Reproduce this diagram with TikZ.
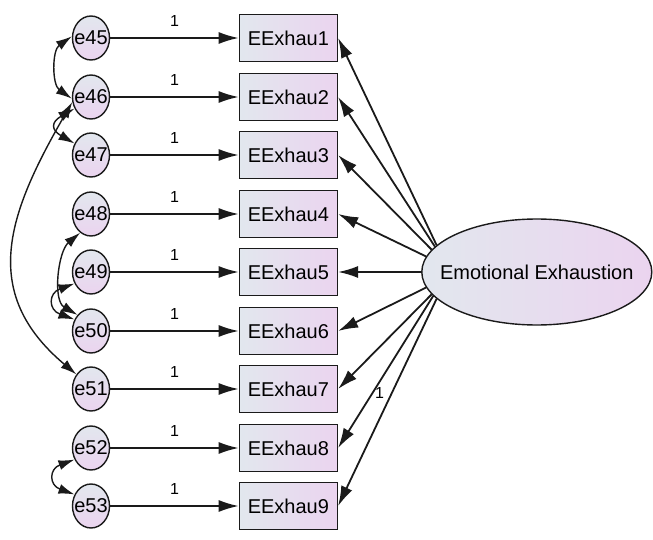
\documentclass[tikz,border=0pt]{standalone}
\usepackage{fontspec}
\setsansfont{Liberation Sans}
\usepackage{tikz}
\usetikzlibrary{arrows.meta}
\usetikzlibrary{shapes,shapes.geometric,arrows,positioning}
\definecolor{shadeLeft}{HTML}{E2E7EE}
\definecolor{shadeRight}{HTML}{EBD4EF}
\definecolor{inkDark}{HTML}{1A1A1A}
\tikzset{>={Latex[length=20pt, width=12pt]}}
\tikzset{sem-line/.style={line width=1.8pt, draw=inkDark}}
\tikzset{cov-line/.style={sem-line, line width=1.4pt, {Latex[length=16pt, width=10pt]}-{Latex[length=16pt, width=10pt]}}}
\tikzset{err-node/.style={draw=inkDark, line width=1.4pt, ellipse, inner sep=0,
    minimum width=37pt, minimum height=44pt, top color=shadeLeft, bottom color=shadeRight,
    font=\sffamily\fontsize{20}{22}\selectfont}}
\tikzset{item-node/.style={draw=inkDark, line width=1.4pt, inner sep=0,
    minimum width=98pt, minimum height=47pt, left color=shadeLeft, right color=shadeRight,
    font=\sffamily\fontsize{20}{22}\selectfont}}
\tikzset{latent-node/.style={item-node, ellipse, minimum width=230pt, minimum height=106pt}}
\tikzset{weight-label/.style={inner sep=0, font=\sffamily\fontsize{16}{16}\selectfont}}

\begin{document}
\begin{tikzpicture}[x=1pt, y=1pt]
    \useasboundingbox (0,0) rectangle (653,-540);

    \foreach \k in {1,...,9} {
        \pgfmathtruncatemacro{\e}{44+\k}
        \pgfmathtruncatemacro{\rowy}{round(38+58.5*(\k-1))}
        \node[err-node] (e\e) at (91, -\rowy) {\makebox[0pt]{e\e}};
        \node[item-node, right=128.5pt of e\e] (b\k) {EExhau\k};
        \draw[->, sem-line] (e\e) -- node[weight-label, above=11pt] {1} (b\k);
    }

    \node[latent-node, right=83pt of b5] (emo) {\makebox[0pt]{Emotional Exhaustion}};

    \foreach \k/\a in {1/165, 2/166, 3/168, 4/172, 5/180, 6/188, 7/192, 9/195}
        \draw[->, sem-line] (emo.\a) -- (b\k.east);
    \draw[->, sem-line] (emo.193) -- node[weight-label, pos=0.64, right=2pt] {1} (b8.east);

    % covariances
    \draw[cov-line] (e45.175) to[out=215, in=145] (e46.185);
    \draw[cov-line] (e46.215) to[out=210, in=150, looseness=2] (e47.145);
    \draw[cov-line] (e46.195) to[out=240, in=140, looseness=1.2] (e51.135);
    \draw[cov-line] (e48.240) to[out=220, in=150, looseness=0.9] (e50.130);
    \draw[cov-line] (e49.215) to[out=200, in=160, looseness=2] (e50.145);
    \draw[cov-line] (e52.215) to[out=200, in=160, looseness=2] (e53.145);
\end{tikzpicture}
\end{document}
